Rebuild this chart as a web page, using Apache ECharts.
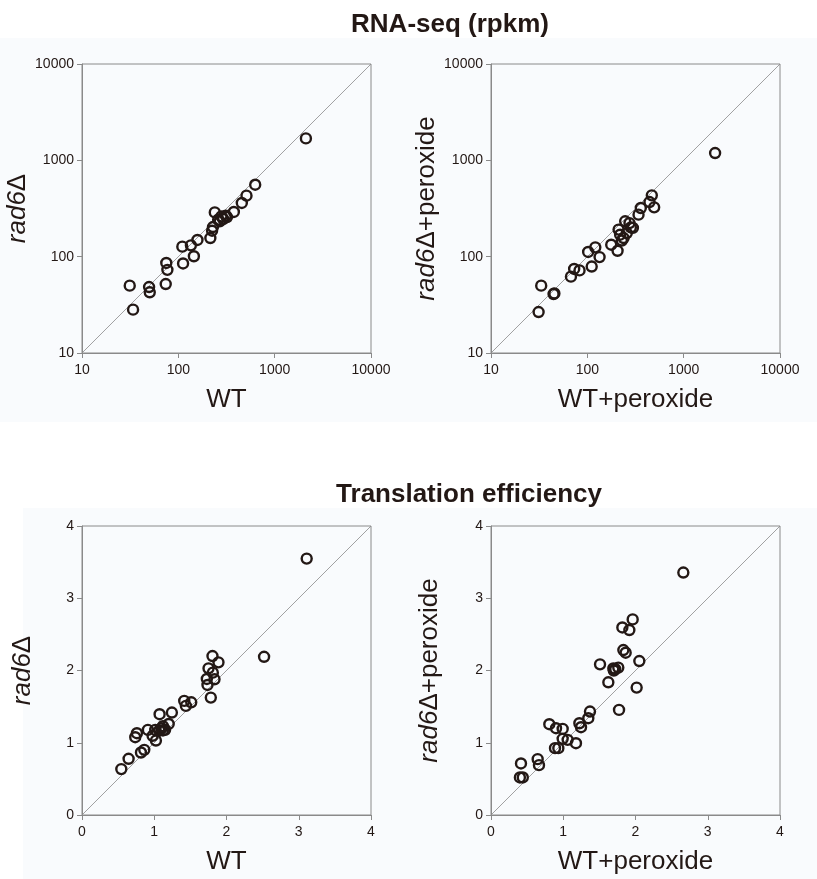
<!DOCTYPE html>
<html>
<head>
<meta charset="utf-8">
<script src="https://cdn.jsdelivr.net/npm/echarts@6/dist/echarts.min.js"></script>
<style>
  html, body { margin: 0; padding: 0; background: #fff; }
  #chart { width: 817px; height: 879px; }
</style>
</head>
<body>
<div id="chart"></div>
<script>
// RNA-seq (rpkm), WT vs rad6Δ
const rnaWT = [31.3, 33.9, 49.7, 50.5, 74, 75, 77, 110, 112, 135, 145, 158, 215, 224, 229, 239, 259, 269, 280, 292, 311, 320, 377, 456, 510, 628, 2110];
const rnaRad6 = [50, 28.2, 48.4, 42.7, 52, 86, 73, 127, 85, 131, 101, 149, 156, 186, 203, 288, 242, 233, 262, 246, 267, 258, 291, 361, 430, 558, 1690];

// RNA-seq (rpkm), with peroxide
const rnaWTPer = [31.2, 33.2, 44.6, 45.5, 67.6, 73, 83, 102, 121, 111, 134, 177, 206, 211, 219, 228, 247, 274, 283, 257, 297, 238, 340, 359, 442, 467, 494, 2120];
const rnaRad6Per = [26.6, 50, 40.9, 41.5, 62, 74.5, 72, 112, 125, 79, 99, 133, 115, 191, 169, 147, 233, 223, 201, 176, 199, 156, 273, 320, 369, 433, 325, 1190];

// Translation efficiency, WT vs rad6Δ
const teWT = [0.544, 0.645, 0.816, 0.862, 0.737, 0.76, 0.912, 0.977, 1.023, 1.014, 1.074, 1.07, 1.1, 1.12, 1.15, 1.2, 1.12, 1.244, 1.415, 1.438, 1.512, 1.728, 1.737, 1.751, 1.783, 1.806, 1.811, 1.834, 1.889, 2.52, 3.11];
const teRad6 = [0.635, 0.778, 0.865, 0.902, 1.077, 1.132, 1.178, 1.096, 1.031, 1.178, 1.395, 1.17, 1.2, 1.23, 1.18, 1.26, 1.17, 1.418, 1.579, 1.51, 1.56, 1.883, 1.8, 2.03, 1.625, 2.2, 1.97, 1.878, 2.113, 2.19, 3.549];

// Translation efficiency, with peroxide
const teWTPer = [0.415, 0.4, 0.44, 0.646, 0.664, 0.807, 0.9, 0.992, 0.992, 1.061, 0.886, 0.932, 1.176, 1.223, 1.246, 1.347, 1.37, 1.509, 1.624, 1.693, 1.72, 1.762, 1.7, 1.772, 1.832, 1.864, 1.818, 1.915, 1.961, 2.016, 2.053, 2.662];
const teRad6Per = [0.713, 0.52, 0.52, 0.773, 0.69, 1.257, 1.201, 1.192, 1.054, 1.04, 0.925, 0.925, 0.994, 1.27, 1.215, 1.34, 1.432, 2.085, 1.837, 2.03, 2.02, 2.04, 2.0, 1.455, 2.283, 2.246, 2.596, 2.56, 2.707, 1.763, 2.131, 3.356];

// diagonal y = x
const logDiag = [10, 10000];
const linDiag = [0, 4];

const FONT = "'Liberation Sans', Arial, sans-serif";
const INK = "#231815";
const AXIS = "#8a8a8a";

const chart = echarts.init(document.getElementById("chart"));

const zip = (a, b) => a.map((v, i) => [v, b[i]]);

const grids = [
  { left: 82, top: 64, width: 289, height: 289 },
  { left: 491, top: 64, width: 289, height: 289 },
  { left: 82, top: 526, width: 289, height: 289 },
  { left: 491, top: 526, width: 289, height: 289 },
].map(g => ({ ...g, show: true, borderColor: AXIS, borderWidth: 1, backgroundColor: "transparent" }));

function makeAxis(idx, isLog, name, isY, gap) {
  const a = {
    gridIndex: idx,
    type: isLog ? "log" : "value",
    min: isLog ? 10 : 0,
    max: isLog ? 10000 : 4,
    name: name,
    nameLocation: "middle",
    nameGap: gap,
    nameTextStyle: {
      fontFamily: FONT, fontSize: 26, color: INK,
      rich: { i: { fontFamily: FONT, fontSize: 26, color: INK, fontStyle: "italic" } },
    },
    axisLine: { show: true, lineStyle: { color: AXIS, width: 1 } },
    axisTick: { show: true, length: 5, lineStyle: { color: AXIS } },
    axisLabel: {
      fontFamily: FONT, fontSize: 14, color: INK, margin: isY ? 8 : 10,
      formatter: v => String(v),
    },
    splitLine: { show: false },
  };
  if (isLog) a.logBase = 10; else a.interval = 1;
  if (isY) a.nameRotate = 90;
  return a;
}

const xAxis = [
  makeAxis(0, true, "WT", false, 34),
  makeAxis(1, true, "WT+peroxide", false, 34),
  makeAxis(2, false, "WT", false, 34),
  makeAxis(3, false, "WT+peroxide", false, 34),
];
const yAxis = [
  makeAxis(0, true, "{i|rad6}Δ", true, 46),
  makeAxis(1, true, "{i|rad6}Δ+peroxide", true, 48),
  makeAxis(2, false, "{i|rad6}Δ", true, 46),
  makeAxis(3, false, "{i|rad6}Δ+peroxide", true, 48),
];

const panels = [
  [rnaWT, rnaRad6, logDiag],
  [rnaWTPer, rnaRad6Per, logDiag],
  [teWT, teRad6, linDiag],
  [teWTPer, teRad6Per, linDiag],
];

const series = [];
panels.forEach((p, i) => {
  series.push({
    type: "line",
    xAxisIndex: i, yAxisIndex: i,
    data: zip(p[2], p[2]),
    symbol: "none",
    silent: true,
    lineStyle: { color: AXIS, width: 0.8 },
    z: 1,
  });
  series.push({
    type: "scatter",
    xAxisIndex: i, yAxisIndex: i,
    data: zip(p[0], p[1]),
    symbol: "circle",
    symbolSize: 10,
    itemStyle: { color: "rgba(0,0,0,0)", borderColor: INK, borderWidth: 2.4, opacity: 1 },
    z: 3,
  });
});

chart.setOption({
  backgroundColor: "#ffffff",
  animation: false,
  graphic: [
    { type: "rect", z: -10, silent: true, shape: { x: 0, y: 38, width: 817, height: 384 }, style: { fill: "#f9fbfd" } },
    { type: "rect", z: -10, silent: true, shape: { x: 23, y: 508, width: 794, height: 371 }, style: { fill: "#f9fbfd" } },
  ],
  title: [
    { text: "RNA-seq (rpkm)", left: 445, top: 7, textAlign: "center",
      textStyle: { fontFamily: FONT, fontSize: 26, fontWeight: "bold", color: INK } },
    { text: "Translation efficiency", left: 464, top: 477, textAlign: "center",
      textStyle: { fontFamily: FONT, fontSize: 26, fontWeight: "bold", color: INK } },
  ],
  grid: grids,
  xAxis: xAxis,
  yAxis: yAxis,
  series: series,
});
</script>
</body>
</html>
